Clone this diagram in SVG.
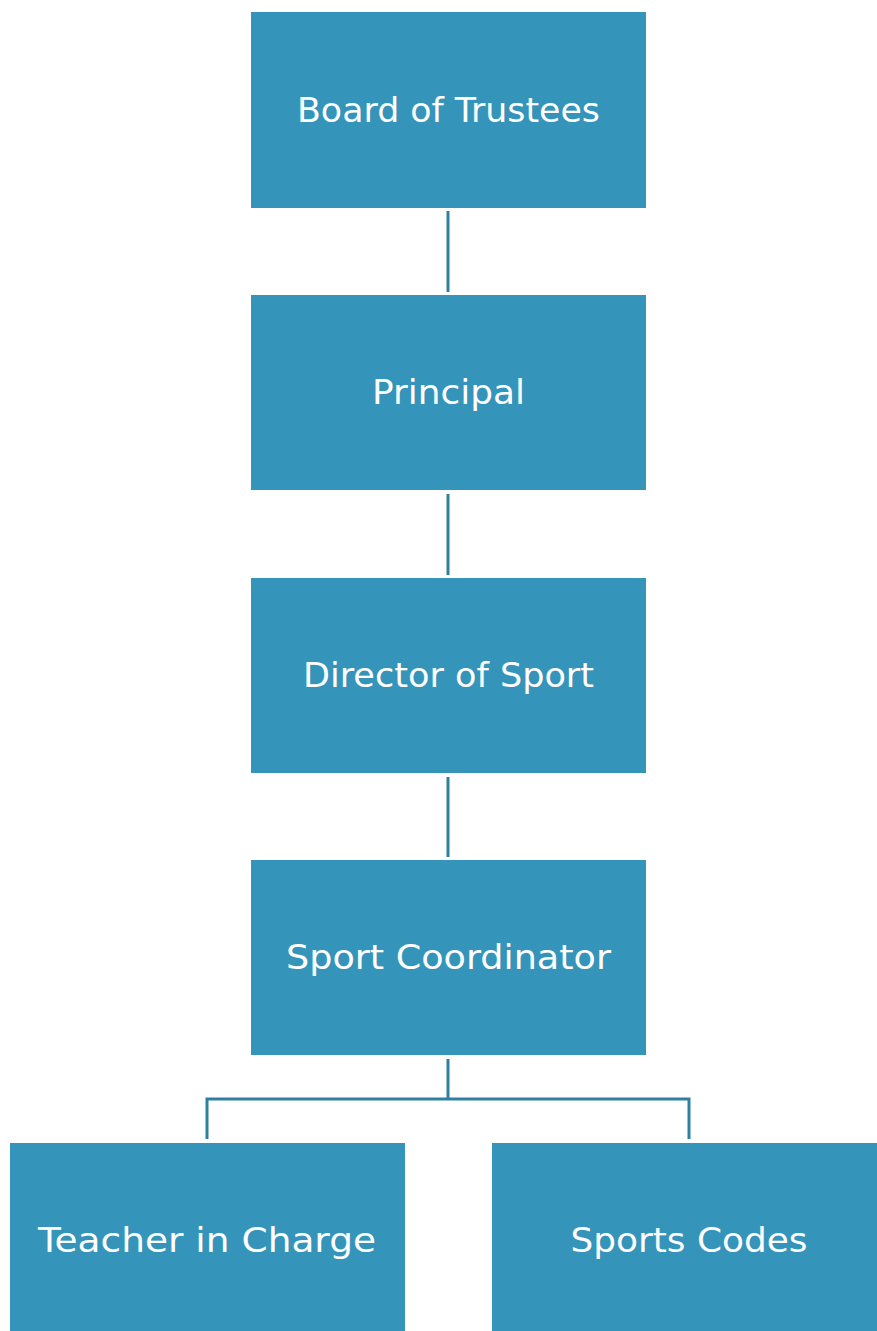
<svg xmlns="http://www.w3.org/2000/svg" width="877" height="1331" viewBox="0 0 877 1331">
<style>
.box{fill:#3594BA}
.lbl{fill:#ffffff;font-family:"DejaVu Sans","Liberation Sans",sans-serif;font-size:34px;text-anchor:middle;dominant-baseline:central}
.con{stroke:#2E80A2;stroke-width:3;fill:none}
</style>
<rect width="877" height="1331" fill="#ffffff"/>
<g id="connectors">
<line class="con" x1="448" y1="211" x2="448" y2="292"/>
<line class="con" x1="448" y1="494" x2="448" y2="575"/>
<line class="con" x1="448" y1="777" x2="448" y2="857"/>
<path class="con" d="M448,1059 V1099 M207,1139 V1099 H689 V1139"/>
</g>
<g id="board"><rect class="box" x="251" y="12" width="395" height="196"/><text class="lbl" x="448.5" y="110" textLength="303" lengthAdjust="spacingAndGlyphs">Board of Trustees</text></g>
<g id="principal"><rect class="box" x="251" y="295" width="395" height="195"/><text class="lbl" x="448.5" y="392" textLength="153" lengthAdjust="spacingAndGlyphs">Principal</text></g>
<g id="director"><rect class="box" x="251" y="578" width="395" height="195"/><text class="lbl" x="448.5" y="675" textLength="291" lengthAdjust="spacingAndGlyphs">Director of Sport</text></g>
<g id="coordinator"><rect class="box" x="251" y="860" width="395" height="195"/><text class="lbl" x="448.5" y="957" textLength="325" lengthAdjust="spacingAndGlyphs">Sport Coordinator</text></g>
<g id="teacher"><rect class="box" x="10" y="1143" width="395" height="188"/><text class="lbl" x="207" y="1240" textLength="338" lengthAdjust="spacingAndGlyphs">Teacher in Charge</text></g>
<g id="codes"><rect class="box" x="492" y="1143" width="385" height="188"/><text class="lbl" x="689" y="1240" textLength="237" lengthAdjust="spacingAndGlyphs">Sports Codes</text></g>
</svg>
